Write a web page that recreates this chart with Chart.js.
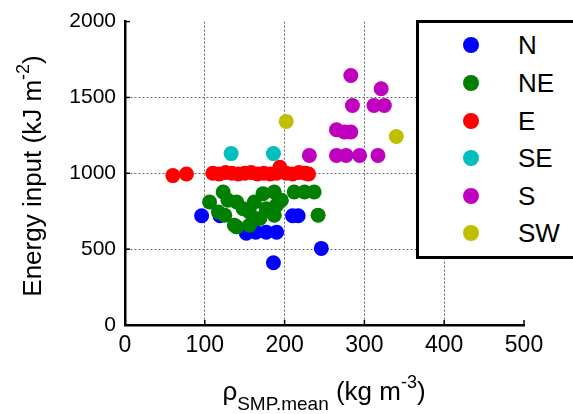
<!DOCTYPE html>
<html>
<head>
<meta charset="utf-8">
<script src="https://cdn.jsdelivr.net/npm/chart.js"></script>
<style>
  body { margin: 0; background: #fff; }
  #wrap { position: relative; width: 573px; height: 414px; overflow: hidden; font-family: "Liberation Sans", Arial, sans-serif; }
  #legend { position: absolute; left: 416px; top: 20px; width: 180px; height: 233px; border: 3px solid #000; background: #fff; }
  .item { position: absolute; left: 0; height: 30px; width: 170px; }
  .dot { position: absolute; left: 44px; top: 7px; width: 16px; height: 16px; border-radius: 50%; }
  .lbl { position: absolute; left: 99px; top: 0; font-size: 26px; line-height: 30px; color: #000; }
</style>
</head>
<body>
<div id="wrap">
  <canvas id="graf" width="573" height="414"></canvas>
  <div id="legend"></div>
</div>
<script>
// 系列ごとのデータ (x: 密度 kg m-3, y: エネルギー kJ m-2)
const seriesNames = ["N", "NE", "E", "SE", "S", "SW"];
const seriesColors = ["#0000ff", "#007f00", "#ff0000", "#00bfbf", "#bf00bf", "#bfbf00"];

const nX = [96, 119, 152, 164, 177, 190, 210, 217, 246, 186];
const nY = [720, 720, 605, 612, 612, 612, 720, 720, 505, 410];

const neX = [106, 123, 129, 140, 125, 117, 137, 140, 148, 156, 156, 162, 173, 177, 169, 187, 187, 190, 196, 212, 225, 237, 242];
const neY = [811, 877, 822, 811, 724, 745, 658, 647, 767, 658, 745, 811, 866, 767, 702, 877, 724, 790, 822, 877, 877, 877, 724];

const eX = [60, 77, 110, 118, 126, 134, 142, 150, 158, 166, 174, 182, 190, 194, 202, 210, 218, 226, 230];
const eY = [985, 995, 1000, 995, 1005, 1000, 995, 1000, 1005, 995, 1000, 995, 1000, 1040, 1000, 995, 1005, 1000, 995];

const seX = [133, 186];
const seY = [1130, 1130];

const sX = [283, 321, 285, 312, 325, 265, 275, 283, 231, 265, 277, 294, 317];
const sY = [1645, 1557, 1447, 1447, 1447, 1287, 1272, 1272, 1118, 1118, 1118, 1118, 1118];

const swX = [202, 340];
const swY = [1342, 1243];

const xTicks = [0, 100, 200, 300, 400, 500];
const yTicks = [0, 500, 1000, 1500, 2000];

const allX = [nX, neX, eX, seX, sX, swX];
const allY = [nY, neY, eY, seY, sY, swY];

function pts(xs, ys) {
  return xs.map((x, i) => ({ x: x, y: ys[i] }));
}

const datasets = seriesNames.map((name, i) => ({
  label: name,
  data: pts(allX[i], allY[i]),
  backgroundColor: seriesColors[i],
  borderWidth: 0,
  pointRadius: 7.5,
  order: seriesNames.length - i   // 後の系列を上に描く
}));

const F = '"Liberation Sans", Arial, sans-serif';

// 目盛り線(内向き)と軸タイトル
const extras = {
  id: "extras",
  afterDraw(chart) {
    const ctx = chart.ctx;
    const xs = chart.scales.x, ys = chart.scales.y;
    ctx.save();
    ctx.strokeStyle = "#000";
    ctx.lineWidth = 1.5;
    xTicks.forEach(v => {
      const p = xs.getPixelForValue(v);
      ctx.beginPath(); ctx.moveTo(p, ys.bottom); ctx.lineTo(p, ys.bottom - 5); ctx.stroke();
    });
    yTicks.forEach(v => {
      const p = ys.getPixelForValue(v);
      ctx.beginPath(); ctx.moveTo(xs.left, p); ctx.lineTo(xs.left + 5, p); ctx.stroke();
    });
    ctx.fillStyle = "#000";
    ctx.textBaseline = "alphabetic";

    // y軸タイトル
    const yParts = [
      { t: "Energy input (kJ m", s: 26, dy: 0 },
      { t: "-2", s: 18, dy: -12 },
      { t: ")", s: 26, dy: 0 }
    ];
    ctx.save();
    ctx.translate(41, 176);
    ctx.rotate(-Math.PI / 2);
    drawParts(ctx, yParts, 0);
    ctx.restore();

    // x軸タイトル
    const xParts = [
      { t: "\u03c1", s: 26, dy: -2 },
      { t: "SMP.mean", s: 19, dy: 8 },
      { t: " (kg m", s: 26, dy: -2 },
      { t: "-3", s: 18, dy: -14 },
      { t: ")", s: 26, dy: -2 }
    ];
    ctx.save();
    ctx.translate(324, 402);
    drawParts(ctx, xParts, 0);
    ctx.restore();
    ctx.restore();
  }
};

function drawParts(ctx, parts, y) {
  let w = 0;
  parts.forEach(p => { ctx.font = p.s + "px " + F; w += ctx.measureText(p.t).width; });
  let x = -w / 2;
  parts.forEach(p => {
    ctx.font = p.s + "px " + F;
    ctx.fillText(p.t, x, y + p.dy);
    x += ctx.measureText(p.t).width;
  });
}

const ctx = document.getElementById("graf").getContext("2d");
new Chart(ctx, {
  type: "scatter",
  data: { datasets: datasets },
  options: {
    responsive: false,
    animation: false,
    events: [],
    layout: { padding: { top: 21, right: 49, left: 0, bottom: 0 } },
    plugins: { legend: { display: false }, tooltip: { enabled: false } },
    scales: {
      x: {
        type: "linear",
        min: 0, max: 500,
        afterBuildTicks: s => { s.ticks = xTicks.map(v => ({ value: v })); },
        afterFit: s => { s.height = 89; },
        ticks: { color: "#000", font: { size: 23, family: F }, padding: 7, maxRotation: 0, callback: v => String(v) },
        border: { display: true, color: "#000", width: 2.5, dash: [2, 2] },
        grid: {
          color: c => (c.tick.value > 0 && c.tick.value < 500) ? "#666" : "rgba(0,0,0,0)",
          lineWidth: 1,
          drawTicks: false,
          tickLength: 0
        }
      },
      y: {
        type: "linear",
        min: 0, max: 2000,
        afterBuildTicks: s => { s.ticks = yTicks.map(v => ({ value: v })); },
        afterFit: s => { s.width = 125; },
        ticks: { color: "#000", font: { size: 21, family: F }, padding: 9, callback: v => String(v) },
        border: { display: true, color: "#000", width: 2.5, dash: [2, 2] },
        grid: {
          color: c => (c.tick.value > 0 && c.tick.value < 2000) ? "#666" : "rgba(0,0,0,0)",
          lineWidth: 1,
          drawTicks: false,
          tickLength: 0
        }
      }
    }
  },
  plugins: [extras]
});

// 凡例 (HTML)
const leg = document.getElementById("legend");
const rowY = [22, 60, 98, 135, 173, 210];
seriesNames.forEach((name, i) => {
  const it = document.createElement("div");
  it.className = "item";
  it.style.top = (rowY[i] - 15) + "px";
  it.innerHTML = '<span class="dot" style="background:' + seriesColors[i] + '"></span><span class="lbl">' + name + "</span>";
  leg.appendChild(it);
});
</script>
</body>
</html>
